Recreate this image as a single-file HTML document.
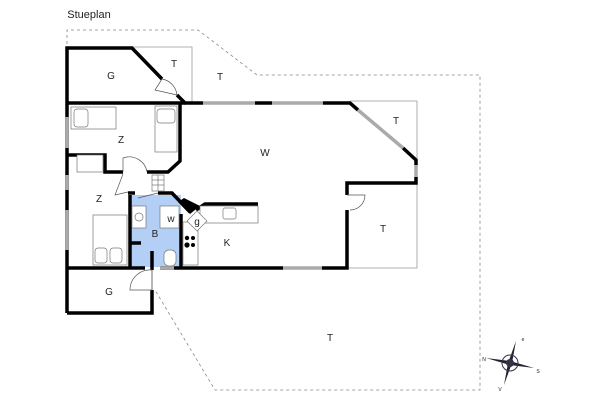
<!DOCTYPE html>
<html><head><meta charset="utf-8"><style>
html,body{margin:0;padding:0;background:#fff}
svg{display:block}
text{font-family:"Liberation Sans",sans-serif;font-size:10px;fill:#222;text-anchor:middle}
</style></head><body>
<svg width="600" height="400" viewBox="0 0 600 400" xmlns="http://www.w3.org/2000/svg">
<text x="89" y="18" style="font-size:11px">Stueplan</text>
<polyline points="67,44 67,30 198,30 257,75 480,75 480,390 215,390 155,290" fill="none" stroke="#888" stroke-width="0.8" stroke-dasharray="3,3"/>
<g fill="none" stroke="#999" stroke-width="0.8">
<polyline points="132,47 192,47 192,103"/>
<polyline points="350,101 417,101 417,160"/>
<polyline points="347,268 417,268 417,183"/>
<polyline points="152,268 152,313"/>
</g>
<polygon points="131,195 181,195 181,267 131,267" fill="#b3cff5"/>
<g fill="none" stroke="#000" stroke-width="3.5" stroke-linejoin="miter">
<polyline points="67,313 67,48 132,48 162,79"/>
<polyline points="177,95 185,103 203,103"/>
<line x1="67" y1="103" x2="185" y2="103"/>
<line x1="255" y1="103" x2="272" y2="103"/>
<polyline points="323,103 350,103 358,110"/>
<polyline points="403,148 416,160 416,165"/>
<polyline points="416,177 416,183 347,183 347,195"/>
<polyline points="347,210 347,268 322,268"/>
<line x1="283" y1="268" x2="160" y2="268"/>
<line x1="145" y1="268" x2="67" y2="268"/>
<polyline points="67,313 152,313 152,290"/>
<polyline points="67,155 105,155 105,172 123,172"/>
<polyline points="147,172 168,172 180,161 180,103"/>
<polyline points="128,193 135,193"/>
<polyline points="158,193 172,193 190,212"/>
<polyline points="196,210 205,204 258,204"/>
<polyline points="130,195 130,268"/>
<line x1="181" y1="214" x2="181" y2="268"/>
<line x1="152" y1="251" x2="152" y2="270"/>
<line x1="130" y1="243" x2="141" y2="243"/>
</g>
<polygon points="178,202 190,214 200,206 184,198" fill="#000"/>
<g stroke="#aaa" stroke-width="3.5">
<line x1="203" y1="103" x2="255" y2="103"/>
<line x1="272" y1="103" x2="323" y2="103"/>
<line x1="358" y1="110" x2="403" y2="148"/>
<line x1="416" y1="165" x2="416" y2="177"/>
<line x1="283" y1="268" x2="322" y2="268"/>
<line x1="67" y1="117" x2="67" y2="148"/>
<line x1="67" y1="175" x2="67" y2="190"/>
<line x1="67" y1="210" x2="67" y2="250"/>
<line x1="160" y1="268" x2="174" y2="268"/>
</g>
<g fill="none" stroke="#555" stroke-width="0.7">
<path d="M162,79 L155,90 L177,95 A18,18 0 0 0 162,79"/>
<path d="M123,172 L123,158 A18,18 0 0 1 147,172"/>
<path d="M123,174 L115,195 L128,192"/>
<path d="M347,195 L365,195 A15,15 0 0 1 350,210"/>
<path d="M130,290 A20,20 0 0 1 152,270 L152,290 Z"/>
<path d="M138,198 L158,193"/>
</g>
<g fill="#fff" stroke="#777" stroke-width="0.7">
<rect x="71" y="107" width="45" height="22"/>
<rect x="74" y="109" width="14" height="18" rx="3"/>
<rect x="155" y="106" width="22" height="46"/>
<rect x="157" y="109" width="18" height="14" rx="3"/>
<rect x="77" y="155" width="26" height="17"/>
<rect x="152" y="175" width="12" height="16"/>
<line x1="152" y1="180" x2="164" y2="180"/><line x1="152" y1="185" x2="164" y2="185"/><line x1="158" y1="175" x2="158" y2="191"/>
<rect x="93" y="215" width="34" height="50"/>
<rect x="95" y="248" width="12" height="15" rx="3"/><rect x="110" y="248" width="12" height="15" rx="3"/>
<rect x="132" y="206" width="14" height="22"/>
<circle cx="139" cy="217" r="4"/>
<rect x="160" y="206" width="19" height="22"/>
<rect x="164" y="250" width="12" height="16" rx="5"/>
<rect x="183" y="222" width="15" height="43"/>
<rect x="200" y="206" width="58" height="17"/>
<rect x="223" y="208" width="13" height="11" rx="2"/>
<polygon points="197,211 207,221 197,231 187,221"/>
</g>
<g fill="#000"><circle cx="187" cy="238" r="2.2"/><circle cx="193" cy="238" r="2"/><circle cx="187" cy="245" r="2.6"/><circle cx="193" cy="245" r="2"/></g>
<text x="111" y="79">G</text><text x="174" y="67">T</text><text x="220" y="80">T</text>
<text x="121" y="143">Z</text><text x="265" y="156">W</text><text x="396" y="124">T</text>
<text x="99" y="202">Z</text><text x="155" y="237">B</text><text x="171" y="222">w</text>
<text x="197" y="225">g</text><text x="227" y="246">K</text><text x="383" y="232">T</text>
<text x="109" y="295">G</text><text x="330" y="341">T</text>
<g transform="translate(510,363)">
<polygon points="-24,-5 0,-2 0,2" fill="#223"/><polygon points="24,5 0,-2 0,2" fill="#223"/>
<polygon points="6,-22 -2,0 2,0" fill="#223"/><polygon points="-6,22 -2,0 2,0" fill="#223"/>
<circle r="4" fill="#334"/><circle r="8" fill="none" stroke="#334" stroke-width="1"/>
<text x="13" y="-22" style="font-size:5px">e</text><text x="-26" y="-2" style="font-size:5px">N</text>
<text x="28" y="10" style="font-size:5px">S</text><text x="-10" y="28" style="font-size:5px">V</text>
</g>
</svg>
</body></html>
